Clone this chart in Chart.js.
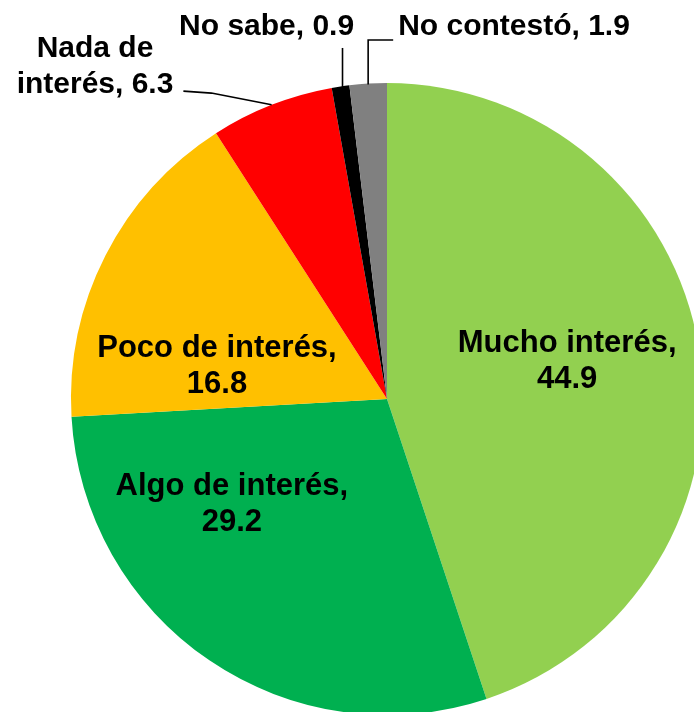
<!DOCTYPE html>
<html>
<head>
<meta charset="utf-8">
<script src="https://cdn.jsdelivr.net/npm/chart.js@4/dist/chart.umd.min.js"></script>
<style>
  html, body { margin: 0; padding: 0; background: #fff; overflow: hidden; }
  #wrap { width: 694px; height: 712px; overflow: hidden; position: relative; }
  canvas { position: absolute; left: 0; top: 0; }
</style>
</head>
<body>
<div id="wrap"><canvas id="chart" width="720" height="720"></canvas></div>
<script>
const categories = ["Mucho interés", "Algo de interés", "Poco de interés", "Nada de interés", "No sabe", "No contestó"];
const values = [44.9, 29.2, 16.8, 6.3, 0.9, 1.9];
const colors = ["#92D050", "#00B050", "#FFC000", "#FF0000", "#000000", "#808080"];

// where each label sits, as a fraction of the radius from the centre (x, first baseline)
const labelPlaces = [
  { kind: "in", lines: ["Mucho interés,", "44.9"], fx: 0.570, fy: -0.149 },
  { kind: "in", lines: ["Algo de interés,", "29.2"], fx: -0.491, fy: 0.304 },
  { kind: "in", lines: ["Poco de interés,", "16.8"], fx: -0.538, fy: -0.133 },
  { kind: "left", lines: ["Nada de", "interés, 6.3"], fx: -0.924, fy: -1.082 },
  { kind: "up", lines: ["No sabe, 0.9"], fx: -0.381, fy: -1.152 },
  { kind: "elbow", lines: ["No contestó, 1.9"], fx: 0.402, fy: -1.152 }
];

const FONT_IN = "bold 31px 'Liberation Sans', Arial, sans-serif";
const FONT_OUT = "bold 30px 'Liberation Sans', Arial, sans-serif";
const LINE_H = 36;

const labelPlugin = {
  id: "pieLabels",
  afterDatasetsDraw(chart) {
    const ctx = chart.ctx;
    const arcs = chart.getDatasetMeta(0).data;
    ctx.save();
    ctx.fillStyle = "#000";
    ctx.textAlign = "center";
    ctx.textBaseline = "alphabetic";
    arcs.forEach((arc, i) => {
      const p = labelPlaces[i];
      const r = arc.outerRadius;
      const tx = arc.x + p.fx * r;
      const ty = arc.y + p.fy * r;
      ctx.font = p.kind === "in" ? FONT_IN : FONT_OUT;
      p.lines.forEach((t, k) => ctx.fillText(t, tx, ty + k * LINE_H));
      if (p.kind === "in") return;

      const mid = (arc.startAngle + arc.endAngle) / 2;
      const ax = arc.x + Math.cos(mid) * r;
      const ay = arc.y + Math.sin(mid) * r;
      ctx.strokeStyle = "#000";
      ctx.lineWidth = 1.6;
      ctx.beginPath();
      if (p.kind === "left") {
        const last = p.lines[p.lines.length - 1];
        const endX = tx + ctx.measureText(last).width / 2 + 10;
        const baseY = ty + (p.lines.length - 1) * LINE_H - 2;
        ctx.moveTo(endX, baseY);
        ctx.lineTo(endX + 28, baseY + 2);
        ctx.lineTo(ax, ay);
      } else if (p.kind === "up") {
        ctx.moveTo(ax + 2, ty + 13);
        ctx.lineTo(ax + 2, ay + 1);
      } else {
        const left = tx - ctx.measureText(p.lines[0]).width / 2;
        ctx.moveTo(left - 5, ty + 5);
        ctx.lineTo(ax, ty + 5);
        ctx.lineTo(ax, ay + 1);
      }
      ctx.stroke();
    });
    ctx.restore();
  }
};

new Chart(document.getElementById("chart").getContext("2d"), {
  type: "pie",
  data: {
    labels: categories,
    datasets: [
      {
        data: values,
        backgroundColor: colors,
        borderWidth: 0,
        hoverOffset: 0
      }
    ]
  },
  options: {
    responsive: false,
    animation: false,
    layout: { padding: { left: 71, top: 83, right: 17, bottom: 5 } },
    plugins: {
      legend: { display: false },
      tooltip: { enabled: false }
    }
  },
  plugins: [labelPlugin]
});
</script>
</body>
</html>
